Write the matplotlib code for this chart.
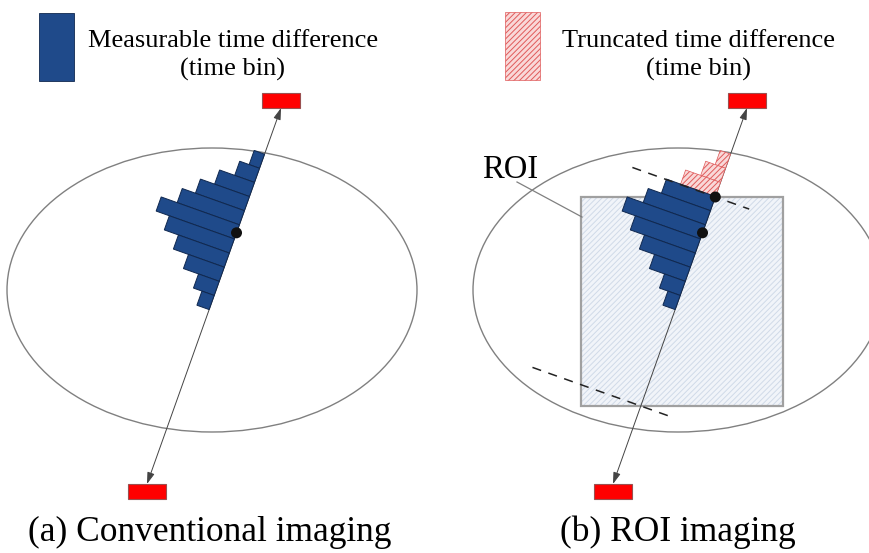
import numpy as np
import matplotlib
matplotlib.use("Agg")
import matplotlib.pyplot as plt
from matplotlib.patches import Rectangle, Ellipse, Polygon, Circle

# histogram of time bins along the line of response (bin heights, px)
bin_heights = [11, 21, 37, 52, 66, 83, 69, 54, 38, 22, 13]
n_truncated = 3          # bins cut off by the ROI in panel (b)
captions = ["(a) Conventional imaging", "(b) ROI imaging"]
legend_texts = ["Measurable time difference", "Truncated time difference"]

BLUE = "#1f4a8a"
BLUE_EDGE = "#10284f"
RED = "#ff0000"
PINK = "#f9d8d8"
PINK_HATCH = "#e05a5a"

plt.rcParams["font.family"] = ["Liberation Serif", "DejaVu Serif"]
plt.rcParams["hatch.linewidth"] = 0.7

fig = plt.figure(figsize=(8.7, 5.53), dpi=100)
ax = fig.add_axes([0, 0, 1, 1])
ax.set_xlim(0, 870)
ax.set_ylim(553, 0)
ax.axis("off")

# line of response, panel (a); panel (b) is the same shifted right
top_tip = np.array([281.0, 108.0])
bot_tip = np.array([147.0, 484.0])
shift = 466.0
u = (bot_tip - top_tip) / np.linalg.norm(bot_tip - top_tip)
n = np.array([-u[1], -u[0]])     # normal pointing to the left/up
if n[0] > 0:
    n = -n
n = np.array([-abs(u[1]), -abs(u[0])])
s0, w = 49.0, 15.0
s_center = 132.5


def pt(A, s, d):
    return A + s * u + d * n


def draw_panel(dx, roi):
    A = top_tip + [dx, 0]
    B = bot_tip + [dx, 0]
    ax.add_patch(Ellipse((212 + dx, 290), 410, 284, fill=False,
                         ec="#808080", lw=1.0, zorder=1))
    if roi:
        ax.add_patch(Rectangle((581, 197), 202, 209, fc="#f1f4f9",
                               ec="#d0dae8", lw=0, hatch="//////", zorder=2))
        ax.add_patch(Rectangle((581, 197), 202, 209, fill=False,
                               ec="#a0a0a0", lw=1.6, zorder=3))
        ax.plot([517, 582], [182, 217], color="#808080", lw=0.9, zorder=3)
        ax.text(482, 178, "ROI", fontsize=23.5, ha="left", va="baseline")
    # LOR with arrows
    ax.annotate("", xy=B, xytext=A,
                arrowprops=dict(arrowstyle="<|-|>,head_length=0.7,head_width=0.22",
                                color="#444444", lw=0.7, shrinkA=0, shrinkB=0),
                zorder=4)
    # detectors
    for c in (A + [0, -7.5], B + [0, 7.5]):
        ax.add_patch(Rectangle((c[0] - 19, c[1] - 7.5), 38, 15, fc=RED,
                               ec="#9a5050", lw=0.8, zorder=6))
    # histogram bars
    for i, h in enumerate(bin_heights):
        sa, sb = s0 + i * w, s0 + (i + 1) * w
        poly = [pt(A, sa, 0), pt(A, sb, 0), pt(A, sb, h), pt(A, sa, h)]
        if roi and i < n_truncated:
            ax.add_patch(Polygon(poly, closed=True, fc=PINK,
                                 ec=PINK_HATCH, lw=0.5, hatch="//////", zorder=5))
        else:
            ax.add_patch(Polygon(poly, closed=True, fc=BLUE, ec=BLUE_EDGE,
                                 lw=0.7, zorder=5))
    ax.add_patch(Circle(pt(A, s_center, 0), 5.5, fc="#111111", ec="none", zorder=7))
    if roi:
        s_top = (197 - A[1]) / u[1]
        s_bot = (406 - A[1]) / u[1]
        ax.add_patch(Circle(pt(A, s_top, 0), 5.5, fc="#111111", ec="none", zorder=7))
        for s, d1, d2 in ((s_top, 88, -36), (s_bot, 115, -31)):
            p1, p2 = pt(A, s, d1), pt(A, s, d2)
            ax.plot([p1[0], p2[0]], [p1[1], p2[1]], color="#222222", lw=1.1,
                    dashes=(6, 5), zorder=6)


draw_panel(0, False)
draw_panel(shift, True)

# legend boxes
ax.add_patch(Rectangle((39, 13), 35, 68, fc=BLUE, ec=BLUE_EDGE, lw=0.6))
ax.add_patch(Rectangle((505, 12), 35, 68, fc=PINK, ec=PINK_HATCH,
                       lw=0.5, hatch="//////"))
for cx, t in zip((233, 699), legend_texts):
    ax.text(cx, 47, t, fontsize=19, ha="center", va="baseline")
    ax.text(cx, 76, "(time bin)", fontsize=19, ha="center", va="baseline")

for cx, t in zip((210, 678), captions):
    ax.text(cx, 541, t, fontsize=25.5, ha="center", va="baseline")

fig.savefig("out.png", dpi=100)
